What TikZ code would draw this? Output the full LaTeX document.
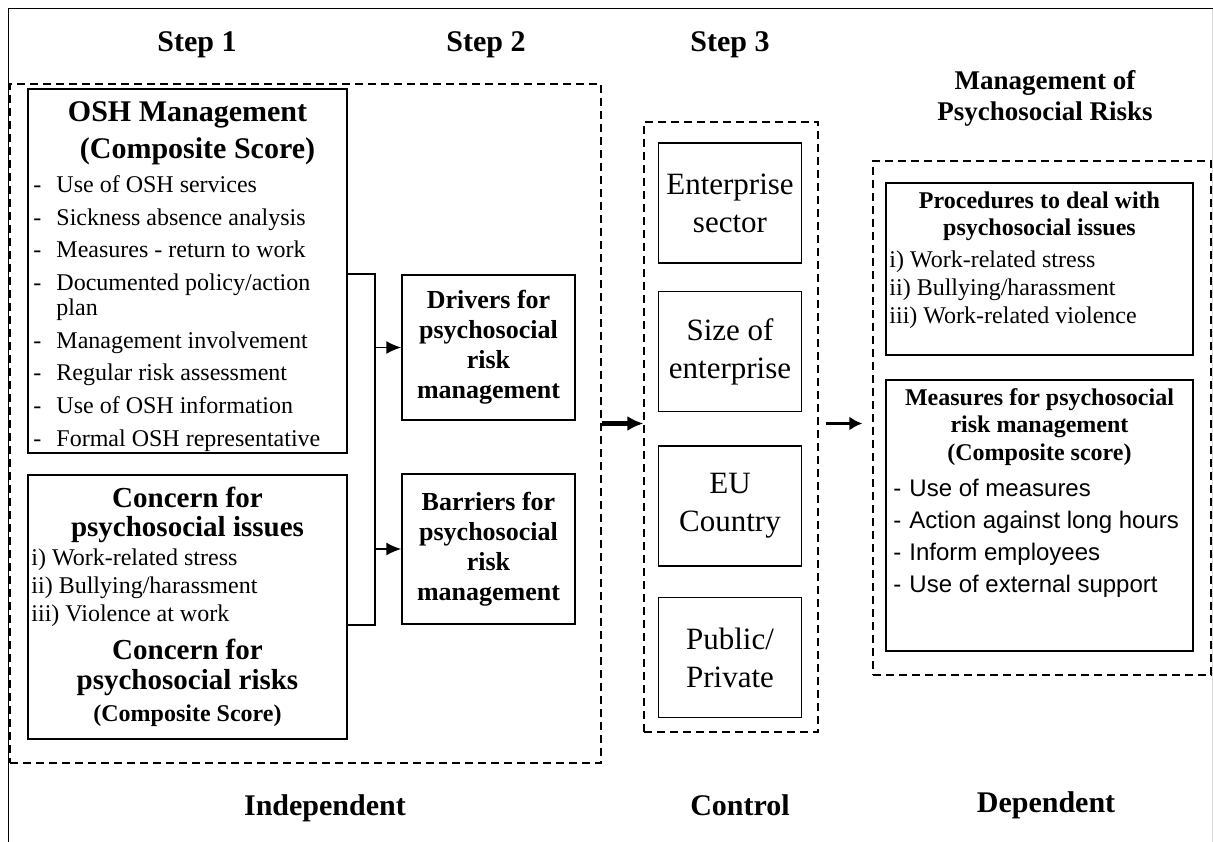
\documentclass[tikz,border=0pt]{standalone}
\usepackage{fontspec}
\setmainfont{Liberation Serif}
\newfontfamily\arialfont{Liberation Sans}
\usetikzlibrary{positioning}
\usetikzlibrary{calc}
\usetikzlibrary{arrows.meta}
\tikzset{>={Latex[length=15pt,width=13pt]}}
\tikzset{box/.style={rectangle, draw, line width=1.5pt, inner sep=0pt, align=center}}
\tikzset{dashframe/.style={rectangle, draw, line width=1.2pt, dash pattern=on 8pt off 5pt, inner sep=0pt}}
\tikzset{ctrlbox/.style={box, font=\fontsize{31}{38}\selectfont, minimum width=143pt, minimum height=120pt}}
\tikzset{stepbox/.style={box, font=\fontsize{26}{30}\selectfont\bfseries, minimum width=173pt}}
\tikzset{steplabel/.style={font=\fontsize{30}{36}\selectfont\bfseries, inner sep=0pt, anchor=base}}
\tikzset{bigtitle/.style={font=\fontsize{30}{37}\selectfont\bfseries, align=center, inner sep=0pt, anchor=base}}
\tikzset{midtitle/.style={font=\fontsize{29}{30}\selectfont\bfseries, align=center, inner sep=0pt, anchor=base}}
\tikzset{smalltitle/.style={font=\fontsize{24}{27}\selectfont\bfseries, align=center, inner sep=0pt, anchor=base}}
\tikzset{listtext/.style={font=\fontsize{24}{28}\selectfont, align=left, inner sep=0pt, anchor=base west}}
\tikzset{sanslist/.style={font=\fontsize{24}{32}\selectfont\arialfont, align=left, inner sep=0pt, anchor=base west}}
\newcommand{\dashitem}[2][23pt]{\makebox[#1][l]{-}#2}

\begin{document}
\begin{tikzpicture}[x=1pt, y=-1pt]
    \useasboundingbox (0,0) rectangle (1213,842);
    \draw[line width=1pt] (8,842) -- (8,9) -- (1213,9);
    \draw[gray!30] (1212,9) -- (1212,842);

    % multi-line nodes sit on the baseline of their last line
    \node [steplabel] (step1) at (197,52) {Step 1};
    \node [steplabel] (step2) at (486,52) {Step 2};
    \node [steplabel] (step3) at (730,52) {Step 3};
    \node [steplabel, font=\fontsize{27}{31}\selectfont\bfseries, align=center] (mgmt) at (1045,121)
        {Management of\\Psychosocial Risks};

    % Step 1 and Step 2: independent variables.
    \node [dashframe, minimum width=591pt, minimum height=679pt] (indep) at (305.5,423.5) {};
    \node [box, minimum width=319pt, minimum height=364pt] (osh) at (187.5,271) {};
    \node [bigtitle] (oshtitle) at ($(osh.north)+(0,70)$)
        {OSH Management\\\hspace*{20pt}(Composite Score)};
    \node [listtext, font=\fontsize{24}{32.7}\selectfont] (oshlist) at ($(osh.north west)+(6,358)$)
        {\dashitem{Use of OSH services}\\
         \dashitem{Sickness absence analysis}\\
         \dashitem{Measures - return to work}\\
         \dashitem{Documented policy/action}\\[-7.7pt]
         \hspace*{23pt}plan\\
         \dashitem{Management involvement}\\
         \dashitem{Regular risk assessment}\\
         \dashitem{Use of OSH information}\\
         \dashitem{Formal OSH representative}};

    \node [box, minimum width=319pt, minimum height=264pt] (concern) at (187.5,607) {};
    \node [midtitle, font=\fontsize{29}{29}\selectfont\bfseries] (ctitle) at ($(concern.north)+(0,62)$)
        {Concern for\\psychosocial issues};
    \node [listtext] (citems) at ($(concern.north west)+(4,147)$)
        {i) Work-related stress\\ii) Bullying/harassment\\iii) Violence at work};
    \node [midtitle] (crisk) at ($(concern.north)+(0,247)$)
        {Concern for\\psychosocial risks\\[2pt]{\fontsize{24}{30}\selectfont(Composite Score)}};

    \node [stepbox, minimum height=145pt] (drivers) at (488.5,347.5)
        {Drivers for\\psychosocial\\risk\\management};
    \node [stepbox, minimum height=150pt] (barriers) at (488.5,549)
        {Barriers for\\psychosocial\\risk\\management};

    \coordinate (jn) at ($(osh.east |- drivers.north)+(27,0)$);
    \draw[line width=1.5pt] (osh.east |- drivers.north) -- (jn) -- (jn |- barriers.south)
        -- (concern.east |- barriers.south);
    \draw[->, line width=1.5pt] (jn |- drivers.west) -- (drivers.west);
    \draw[->, line width=1.5pt] (jn |- barriers.west) -- (barriers.west);

    % Step 3: control variables.
    \node [dashframe, minimum width=174pt, minimum height=610pt] (ctrl) at (731,427) {};
    \node [ctrlbox] (sector) at (730,203) {Enterprise\\sector};
    \node [ctrlbox, below=27pt of sector] (size) {Size of\\enterprise};
    \node [ctrlbox, below=33pt of size] (country) {EU\\Country};
    \node [ctrlbox, below=30pt of country] (ownership) {Public/\\Private};

    % Dependent variables.
    \node [dashframe, minimum width=338pt, minimum height=514pt] (dep) at (1042,418) {};
    \node [box, minimum width=307pt, minimum height=172pt] (procedures) at (1039.5,269) {};
    \node [smalltitle] (ptitle) at ($(procedures.north)+(0,53)$)
        {Procedures to deal with\\psychosocial issues};
    \node [listtext] (pitems) at ($(procedures.north west)+(4,141)$)
        {i) Work-related stress\\ii) Bullying/harassment\\iii) Work-related violence};
    \node [box, minimum width=307pt, minimum height=271pt] (measures) at (1039.5,515.5) {};
    \node [smalltitle, font=\fontsize{24}{27.5}\selectfont\bfseries] (mtitle) at ($(measures.north)+(0,81)$)
        {Measures for psychosocial\\risk management\\(Composite score)};
    \node [sanslist] (mitems) at ($(measures.north west)+(8,213)$)
        {\dashitem[16pt]{Use of measures}\\
         \dashitem[16pt]{Action against long hours}\\
         \dashitem[16pt]{Inform employees}\\
         \dashitem[16pt]{Use of external support}};

    \draw[-{Latex[length=16pt,width=15pt]}, line width=4.5pt] (indep.east) -- (indep.east -| ctrl.west);
    \draw[-{Latex[length=13pt,width=14pt]}, line width=3pt, shorten <=7pt, shorten >=10pt]
        (ctrl.east |- indep.east) -- (dep.west |- indep.east);

    \node [steplabel] (lindep) at (325,815) {Independent};
    \node [steplabel] (lctrl) at (740,815) {Control};
    \node [steplabel] (ldep) at (1046,812) {Dependent};
\end{tikzpicture}
\end{document}
